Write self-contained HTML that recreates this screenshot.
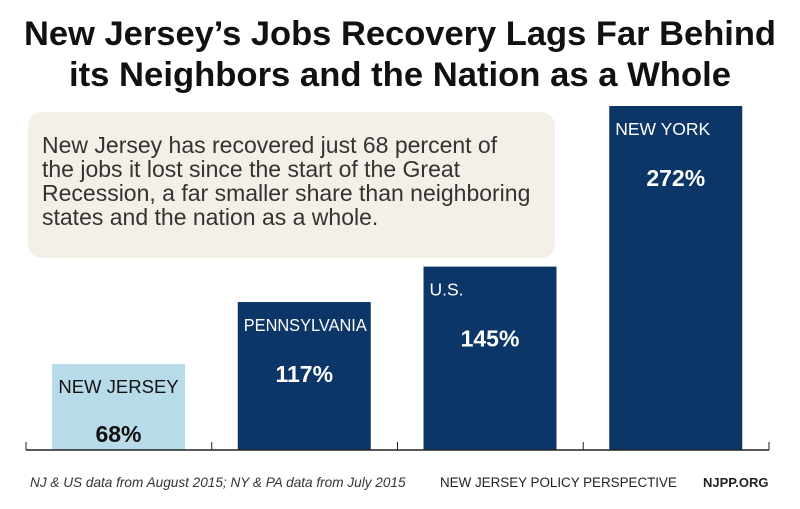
<!DOCTYPE html>
<html><head><meta charset="utf-8"><style>
body{margin:0;background:#fff;width:800px;height:504px;overflow:hidden;font-family:"Liberation Sans",sans-serif}
</style></head><body>
<svg width="800" height="504" xmlns="http://www.w3.org/2000/svg">
<text x="400" y="45" text-anchor="middle" font-size="34" font-weight="bold" fill="#111" textLength="752" lengthAdjust="spacingAndGlyphs">New Jersey’s Jobs Recovery Lags Far Behind</text>
<text x="400" y="86" text-anchor="middle" font-size="34" font-weight="bold" fill="#111" textLength="662" lengthAdjust="spacingAndGlyphs">its Neighbors and the Nation as a Whole</text>
<rect x="28" y="112" width="527" height="146" rx="14" fill="#f4f0e7"/>
<g font-size="23" fill="#333">
<text x="42" y="153">New Jersey has recovered just 68 percent of</text>
<text x="42" y="177">the jobs it lost since the start of the Great</text>
<text x="42" y="201">Recession, a far smaller share than neighboring</text>
<text x="42" y="225">states and the nation as a whole.</text>
</g>
<g id="bars"></g>
<g id="axis"></g>
<text x="30" y="487" font-size="13.6" font-style="italic" fill="#333">NJ &amp; US data from August 2015; NY &amp; PA data from July 2015</text>
<text x="440" y="487" font-size="13.4" fill="#222">NEW JERSEY POLICY PERSPECTIVE</text>
<text x="703" y="487" font-size="13" font-weight="bold" fill="#222">NJPP.ORG</text>
</svg>
<script>
const categories=["NEW JERSEY","PENNSYLVANIA","U.S.","NEW YORK"];
const values=[68,117,145,272];
const valueLabels=["68%","117%","145%","272%"];
const colors=["#b8dbe9","#0d3668","#0d3668","#0d3668"];
const NS="http://www.w3.org/2000/svg";
const base=450, left=26, slot=185.75, bw=133, off=26, scale=344/272;
function y(v){return base-v*scale;}
const g=document.getElementById('bars');
categories.forEach((c,i)=>{
 const x=left+i*slot+off;
 const r=document.createElementNS(NS,'rect');
 r.setAttribute('x',x);r.setAttribute('y',y(values[i]));r.setAttribute('width',bw);r.setAttribute('height',base-y(values[i]));r.setAttribute('fill',colors[i]);
 
 
 g.appendChild(r);
 const light=i===0;
 const t=document.createElementNS(NS,'text');
 t.setAttribute('x',light?x+bw/2:x+6);t.setAttribute('y',y(values[i])+29);
 t.setAttribute('font-size',light?'18.5':'17.5');t.setAttribute('fill',light?'#111':'#fff');
 if(light)t.setAttribute('text-anchor','middle');
 if(c.length>11){t.setAttribute('textLength',bw-10);t.setAttribute('lengthAdjust','spacingAndGlyphs');}
 t.textContent=c;
 
 
 g.appendChild(t);
 const v=document.createElementNS(NS,'text');
 v.setAttribute('x',x+bw/2);v.setAttribute('y',y(values[i])+(light?78:80));
 v.setAttribute('text-anchor','middle');v.setAttribute('font-size','23');v.setAttribute('font-weight','bold');v.setAttribute('fill',light?'#111':'#fff');
 v.textContent=valueLabels[i];
 
 
 g.appendChild(v);
});
const a=document.getElementById('axis');
const ln=document.createElementNS(NS,'line');
ln.setAttribute('x1',left);ln.setAttribute('x2',left+4*slot);ln.setAttribute('y1',base);ln.setAttribute('y2',base);ln.setAttribute('stroke','#222');ln.setAttribute('stroke-width','1.5');


a.appendChild(ln);
for(let i=0;i<=categories.length;i++){
 const tk=document.createElementNS(NS,'line');
 tk.setAttribute('x1',left+i*slot);tk.setAttribute('x2',left+i*slot);tk.setAttribute('y1',base-8);tk.setAttribute('y2',base);tk.setAttribute('stroke','#222');
 
 
 a.appendChild(tk);
}
</script>
</body></html>
